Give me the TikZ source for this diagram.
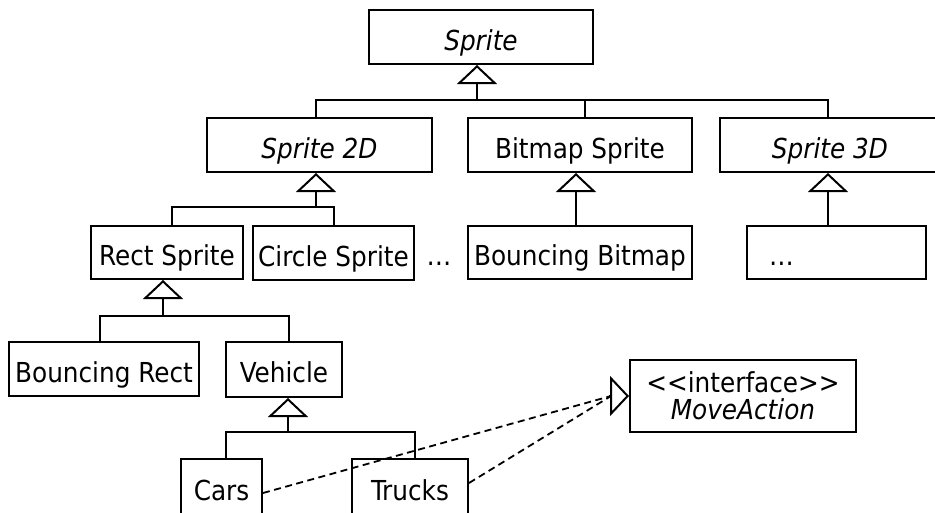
\documentclass[tikz,border=0pt]{standalone}
\usepackage{fontspec}
\setmainfont{DejaVu Sans Condensed}
\usetikzlibrary{arrows.meta}
\begin{document}
\begin{tikzpicture}[x=1pt,y=-1pt,
  line width=2pt,
  cls/.style={draw, rectangle, inner sep=0pt, minimum height=54pt, text height=26pt, text depth=0pt,
    font=\fontsize{27.5pt}{28pt}\selectfont},
  inh/.style={-{Triangle[open,length=19pt,width=40pt]}},
  real/.style={dashed, dash pattern=on 7pt off 4.5pt, line width=1.8pt},
]
\useasboundingbox[fill=white] (0,0) rectangle (935,512);
% level 0
\node[cls, minimum width=224pt] (sprite) at (481,37) {\itshape Sprite};
% level 1
\node[cls, minimum width=225pt] (s2d) at (319.5,145) {\itshape Sprite 2D};
\node[cls, minimum width=224pt] (bmp) at (580,145) {Bitmap Sprite};
\node[cls, minimum width=220pt] (s3d) at (830,145) {\itshape Sprite 3D};
% level 2
\node[cls, minimum width=152pt, minimum height=53pt] (rect) at (167,252.5) {Rect Sprite};
\node[cls, minimum width=161pt] (circle) at (333.5,253) {Circle Sprite};
\node[font=\fontsize{27.5pt}{28pt}\selectfont, inner sep=0pt, text height=26pt, text depth=0pt] (dotsA) at (439,252.5) {…};
\node[cls, minimum width=224pt, minimum height=53pt] (bbmp) at (580,252.5) {Bouncing Bitmap};
\node[cls, minimum width=179pt, minimum height=53pt, text width=135pt, inner xsep=22pt, align=left] (dotsB) at (836.5,252.5) {…};
% level 3
\node[cls, minimum width=190pt] (brect) at (104,369) {Bouncing Rect};
\node[cls, minimum width=116pt, minimum height=55pt] (vehicle) at (284,369.5) {Vehicle};
% level 4
\node[cls, minimum width=81pt, minimum height=57pt] (cars) at (221.5,487.5) {Cars};
\node[cls, minimum width=116pt, minimum height=57pt] (trucks) at (410,487.5) {Trucks};
% interface
\node[draw, rectangle, inner sep=0pt, minimum width=226pt, minimum height=72pt, align=center,
  font=\fontsize{27.5pt}{28pt}\selectfont] (ma) at (743,396) {{<}{<}interface{>}{>}\\[-1pt]\itshape MoveAction};

% Sprite generalization
\coordinate (b0) at (477,100);
\coordinate (b1) at (316,100);
\coordinate (b2) at (828,100);
\coordinate (bb) at (585,100);
\draw[inh] (b0) -- (sprite.south -| b0);
\draw (s2d.north -| b1) -- (b1) -- (b2) -- (s3d.north -| b2);
\draw (bb) -- (bmp.north -| bb);

% Sprite 2D generalization
\coordinate (c0) at (316,207);
\coordinate (c1) at (172,207);
\coordinate (c2) at (334,207);
\draw[inh] (c0) -- (s2d.south -| c0);
\draw (rect.north -| c1) -- (c1) -- (c2) -- (circle.north -| c2);

% Bitmap / 3D
\coordinate (dd) at (576,200);
\coordinate (ee) at (828,200);
\draw[inh] (bbmp.north -| dd) -- (bmp.south -| dd);
\draw[inh] (dotsB.north -| ee) -- (s3d.south -| ee);

% Rect Sprite generalization
\coordinate (f0) at (163,316);
\coordinate (f1) at (100,316);
\coordinate (f2) at (289,316);
\draw[inh] (f0) -- (rect.south -| f0);
\draw (brect.north -| f1) -- (f1) -- (f2) -- (vehicle.north -| f2);

% Vehicle generalization
\coordinate (g0) at (288,432);
\coordinate (g1) at (226,432);
\coordinate (g2) at (415,432);
\draw[inh] (g0) -- (vehicle.south -| g0);
\draw (cars.north -| g1) -- (g1) -- (g2) -- (trucks.north -| g2);

% realization
\coordinate (rb) at ([xshift=-18pt]ma.west);
\draw[inh] ([xshift=-20pt]ma.west) -- (ma.west);
\draw[real] ([yshift=-5.5pt]cars.east) -- (rb);
\draw[real] ([yshift=4.5pt]trucks.east) -- (rb);
\end{tikzpicture}
\end{document}
